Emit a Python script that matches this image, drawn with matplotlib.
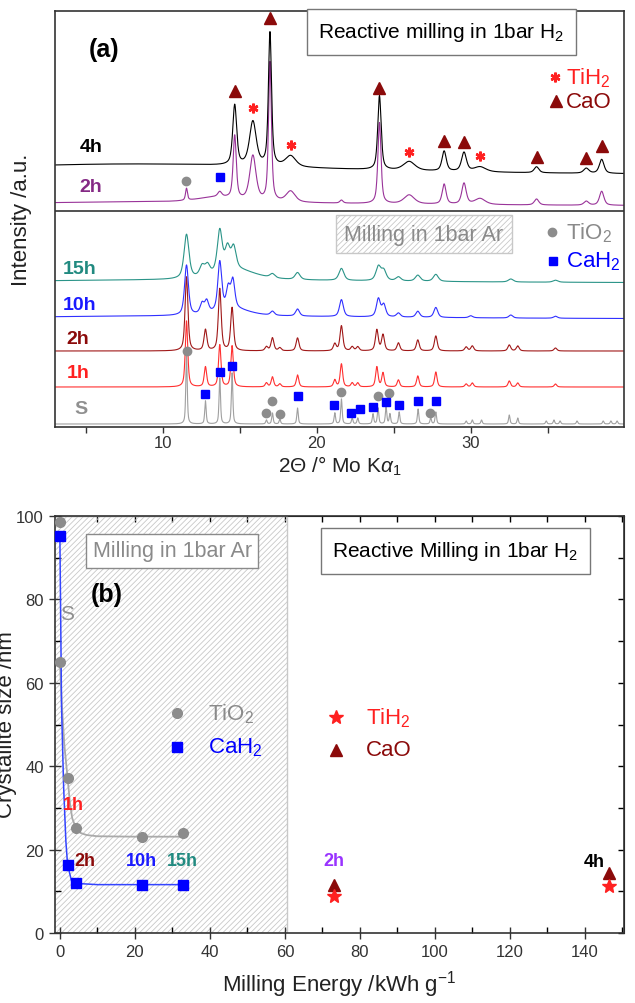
import numpy as np
import matplotlib
matplotlib.use("Agg")
import matplotlib.pyplot as plt
from matplotlib.ticker import MultipleLocator

plt.rcParams['font.family'] = ['Liberation Sans', 'DejaVu Sans']
plt.rcParams['mathtext.fontset'] = 'custom'
plt.rcParams['mathtext.rm'] = 'Liberation Sans'
plt.rcParams['mathtext.it'] = 'Liberation Sans:italic'
plt.rcParams['mathtext.bf'] = 'Liberation Sans:bold'
plt.rcParams['hatch.linewidth'] = 0.6

# ---------------- (a) XRD patterns: peak 2theta, peak height (a.u.), FWHM
# milling in Ar
s_pos = [11.54, 12.77, 13.70, 14.50, 16.73, 17.12, 17.60, 18.75, 21.17, 21.60, 22.30,
         22.66, 23.65, 23.98, 24.50, 24.75, 25.35, 26.58, 27.40, 27.73, 29.70, 30.10,
         30.70, 32.50, 33.05, 34.90, 35.40, 35.80, 36.90, 38.60, 39.10, 39.50]
s_hgt = [69, 23, 46, 51, 4, 11, 5, 16, 11, 25, 6,
         6, 10, 16, 17, 10, 12, 15, 6, 12, 3, 4,
         4, 9, 6, 3, 4, 3, 3, 3, 3, 3]

ar_pos = [11.54, 12.77, 13.70, 14.50, 16.73, 17.12, 17.60, 18.75, 21.17, 21.60, 22.30,
          22.66, 23.90, 24.30, 25.30, 26.56, 27.73, 29.70, 30.10, 32.50, 33.05, 35.50]
h1_hgt = [66, 20, 42, 41, 4, 10, 3, 12, 7, 23, 4, 4, 20, 14, 7, 11, 15, 3, 4, 6, 4, 3]
h2_hgt = [74, 21, 62, 43, 4, 13, 3, 13, 7, 25, 4, 4, 21, 16, 8, 11, 15, 4, 5, 6, 5, 3]

h10_pos = [11.54, 12.55, 12.85, 13.70, 14.25, 14.55, 17.12, 18.75, 21.60, 24.00, 24.35,
           25.30, 26.56, 27.73, 30.00, 32.60, 35.50]
h10_hgt = [50, 10, 12, 49, 20, 28, 4, 7, 17, 18, 12, 4, 6, 10, 2, 3, 2]
h15_pos = [11.54, 12.55, 12.90, 13.70, 14.20, 14.60, 17.12, 18.75, 21.60, 24.00, 24.35,
           25.30, 26.56, 27.73, 32.60, 35.50]
h15_hgt = [44, 10, 10, 42, 22, 22, 4, 7, 12, 14, 10, 4, 6, 7, 3, 2]

# broad background humps (center, height, FWHM)
h10_bg = [(14.6, 7, 2.5), (12, 3, 30)]
h15_bg = [(14.8, 10, 3.0), (12, 3, 30)]

# reactive milling in H2
h2r_pos = [11.54, 13.70, 14.67, 15.85, 16.96, 18.30, 21.60, 24.07, 26.00, 28.27, 29.56,
           30.60, 34.27, 37.50, 38.50]
h2r_hgt = [12, 5, 63, 45, 139, 11, 3, 81, 9, 20, 21, 6, 6, 4, 14]
h2r_wid = [0.15, 0.3, 0.24, 0.48, 0.22, 0.7, 0.24, 0.24, 0.8, 0.3, 0.34, 0.8, 0.34, 0.36, 0.34]
h2r_bg = [(10, 4, 30), (13.5, 5, 3)]

h4r_pos = [14.67, 15.85, 16.96, 18.30, 24.07, 26.00, 28.27, 29.56, 30.60, 34.27, 37.50, 38.50]
h4r_hgt = [60, 44, 133, 11, 74, 9, 20, 19, 5, 6, 5, 14]
h4r_wid = [0.3, 0.52, 0.24, 0.8, 0.26, 0.9, 0.33, 0.38, 0.9, 0.36, 0.4, 0.36]
h4r_bg = [(8, 11, 30)]

# phase markers in (a): 2theta, vertical position (a.u.)
cao_mx = [14.67, 16.96, 24.07, 28.27, 29.56, 34.27, 37.50, 38.50]
cao_my = [336, 409, 339, 286, 285, 270, 269, 281]
tih2_mx = [15.85, 18.30, 26.00, 30.60]
tih2_my = [319, 282, 275, 271]
tio2_mx = [11.5, 11.54, 16.73, 17.12, 17.60, 21.60, 23.98, 24.70, 27.38]
tio2_my = [246, 76, 14, 26, 13, 35, 31, 34, 14]
cah2_mx = [13.7, 12.77, 13.70, 14.50, 18.75, 21.10, 22.20, 22.80, 23.65, 24.50, 25.35, 26.60, 27.73]
cah2_my = [250, 33, 55, 61, 31, 22, 14, 18, 20, 25, 22, 26, 26]

# ---------------- (b) crystallite size vs milling energy
tio2_x = [0, 0, 2.05, 4.27, 21.8, 32.8]
tio2_y = [98.5, 65, 37.2, 25.2, 23.0, 24.0]
cah2_x = [0, 2.05, 4.27, 21.8, 32.8]
cah2_y = [95.3, 16.4, 11.9, 11.6, 11.6]
tih2_x = [73.2, 146.5]
tih2_y = [8.9, 11.2]
cao_x = [73.2, 146.5]
cao_y = [11.6, 14.5]
tio2_fit_x = [0, 0.5, 1.2, 2.05, 2.7, 3.3, 4.27, 5.5, 7.1, 10, 20, 32.8]
tio2_fit_y = [65, 55, 45, 37.2, 31, 27.5, 25.2, 24.0, 23.5, 23.2, 23.1, 23.1]
cah2_fit_x = [0, 0.45, 1.0, 1.6, 2.05, 3.1, 4.27, 10, 32.8]
cah2_fit_y = [95.3, 54, 35, 22, 16.4, 12.5, 11.9, 11.6, 11.6]

GRAY = '#8c8c8c'
RED = '#ff2020'
DRED = '#8b0a0a'
BLUE = '#1a1aff'
TEAL = '#218a80'
PURP = '#993399'


def pattern(x, pos, hgt, wid, bg=()):
    wid = np.broadcast_to(wid, np.shape(pos))
    y = np.zeros_like(x)
    peaks = list(zip(pos, hgt, wid)) + [(c, h, w) for c, h, w in bg]
    for c, h, w in peaks:
        d = (x - c) / (w / 2)
        y += h * (0.6 / (1 + d ** 2) + 0.4 * np.exp(-np.log(2) * d ** 2))
    return y


fig = plt.figure(figsize=(6.35, 10.04), dpi=100)
ax1 = fig.add_axes([55 / 635, 1 - 428 / 1004, 569 / 635, 416 / 1004])
ax2 = fig.add_axes([55 / 635, 1 - 934 / 1004, 569 / 635, 417 / 1004])

# ---------------- panel (a)
tt = np.linspace(3, 40, 4000)
curves = [
    (pattern(tt, s_pos, s_hgt, 0.11), 3, '#a0a0a0', 'S', 4.7, 18, '#909090'),
    (pattern(tt, ar_pos, h1_hgt, 0.19), 40, '#ff3030', '1h', 4.5, 55, RED),
    (pattern(tt, ar_pos, h2_hgt, 0.22), 76, '#a01818', '2h', 4.5, 89, DRED),
    (pattern(tt, h10_pos, h10_hgt, 0.3, h10_bg), 108, '#3030ff', '10h', 4.6, 123, BLUE),
    (pattern(tt, h15_pos, h15_hgt, 0.38, h15_bg), 144, '#2a9488', '15h', 4.6, 158, TEAL),
    (pattern(tt, h2r_pos, h2r_hgt, h2r_wid, h2r_bg), 221, PURP, '2h', 5.35, 240, '#852a85'),
    (pattern(tt, h4r_pos, h4r_hgt, h4r_wid, h4r_bg), 252, 'black', '4h', 5.35, 281, 'black'),
]
for yy, off, col, lab, lx, ly, lcol in curves:
    ax1.plot(tt, yy + off, color=col, lw=0.8)
    ax1.text(lx, ly, lab, color=lcol, fontsize=14, fontweight='bold', ha='center', va='center')

ax1.axhline(216, color='#333333', lw=1.2)
ax1.plot(cao_mx, cao_my, '^', color=DRED, ms=9, clip_on=False)
ax1.plot(tih2_mx, tih2_my, ls='none', marker=(6, 2, 0), color=RED, mec=RED, ms=7, mew=1.8)
ax1.plot(tio2_mx, tio2_my, 'o', color=GRAY, ms=6)
ax1.plot(cah2_mx, cah2_my, 's', color='#0000ff', ms=6)

ax1.text(6.2, 378, '(a)', fontsize=18, fontweight='bold', ha='center', va='center')
ax1.text(28.1, 395, 'Reactive milling in 1bar H$_2$', fontsize=15, ha='center', va='center',
         bbox=dict(boxstyle='square,pad=0.55', fc='white', ec='#777777', lw=1))
ax1.text(26.95, 193, 'Milling in 1bar Ar', fontsize=15.5, color='#8a8a8a', ha='center', va='center',
         bbox=dict(boxstyle='square,pad=0.4', fc='white', ec='#c8c8c8', lw=1, hatch='//////'))
# legends
ax1.plot([35.45], [350], ls='none', marker=(6, 2, 0), color=RED, mec=RED, ms=7, mew=1.8)
ax1.text(36.2, 350, 'TiH$_2$', color=RED, fontsize=16, va='center')
ax1.plot([35.55], [326], '^', color=DRED, ms=9)
ax1.text(36.2, 326, 'CaO', color=DRED, fontsize=16, va='center')
ax1.plot([35.3], [195], 'o', color=GRAY, ms=6)
ax1.text(36.2, 195, 'TiO$_2$', color='#8a8a8a', fontsize=16, va='center')
ax1.plot([35.35], [166], 's', color='#0000ff', ms=6)
ax1.text(36.2, 166, 'CaH$_2$', color='#0000ff', fontsize=16, va='center')

ax1.set_xlim(3.0, 39.95)
ax1.set_ylim(0, 416)
ax1.set_yticks([])
ax1.xaxis.set_major_locator(MultipleLocator(10))
ax1.xaxis.set_minor_locator(MultipleLocator(5))
ax1.tick_params(axis='x', which='both', direction='out', length=4, width=1, pad=2,
                labelsize=12, colors='#333333')
for sp in ax1.spines.values():
    sp.set_color('#333333')
    sp.set_linewidth(1.2)

# ---------------- panel (b)
ax2.axvspan(-5, 60.5, fc='none', ec='#c8c8c8', hatch='//////', lw=1)
ax2.plot(tio2_fit_x, tio2_fit_y, color='#aaaaaa', lw=1.3)
ax2.plot(cah2_fit_x, cah2_fit_y, color='#3344ff', lw=1.1)
ax2.plot(tio2_x, tio2_y, 'o', color=GRAY, ms=7, clip_on=False, zorder=5)
ax2.plot(cah2_x, cah2_y, 's', color='#0000ff', ms=7, clip_on=False, zorder=5)
ax2.plot(cao_x, cao_y, '^', color=DRED, ms=8, clip_on=False, zorder=5)
ax2.plot(tih2_x, tih2_y, '*', color=RED, ms=10, clip_on=False, zorder=5)

ax2.text(1.9, 76.7, 'S', color='#909090', fontsize=15, ha='center', va='center')
ax2.text(12.4, 81.3, '(b)', fontsize=18, fontweight='bold', ha='center', va='center')
for lab, x, y, c in [('1h', 3.5, 30.9, RED), ('2h', 6.7, 17.4, DRED), ('10h', 21.8, 17.4, BLUE),
                     ('15h', 32.6, 17.4, TEAL), ('2h', 73.0, 17.4, '#9933ff'), ('4h', 142.6, 17.2, 'black')]:
    ax2.text(x, y, lab, color=c, fontsize=13, fontweight='bold', ha='center', va='center')

ax2.text(30.0, 91.7, 'Milling in 1bar Ar', fontsize=15.5, color='#8a8a8a', ha='center', va='center',
         bbox=dict(boxstyle='square,pad=0.3', fc='white', ec='#8a8a8a', lw=1))
ax2.text(105.5, 91.7, 'Reactive Milling in 1bar H$_2$', fontsize=15, ha='center', va='center',
         bbox=dict(boxstyle='square,pad=0.55', fc='white', ec='#777777', lw=1))

ax2.plot([31.3], [52.8], 'o', color=GRAY, ms=7)
ax2.text(39.6, 52.8, 'TiO$_2$', color='#8a8a8a', fontsize=16, va='center')
ax2.plot([31.3], [44.6], 's', color='#0000ff', ms=7)
ax2.text(39.6, 44.6, 'CaH$_2$', color='#0000ff', fontsize=16, va='center')
ax2.plot([73.5], [51.8], '*', color=RED, ms=10)
ax2.text(81.5, 51.8, 'TiH$_2$', color=RED, fontsize=16, va='center')
ax2.plot([73.5], [43.9], '^', color=DRED, ms=8)
ax2.text(81.5, 43.9, 'CaO', color=DRED, fontsize=16, va='center')

ax2.set_xlim(-1.3, 150.4)
ax2.set_ylim(0, 100)
ax2.xaxis.set_major_locator(MultipleLocator(20))
ax2.xaxis.set_minor_locator(MultipleLocator(10))
ax2.yaxis.set_major_locator(MultipleLocator(20))
ax2.yaxis.set_minor_locator(MultipleLocator(10))
ax2.tick_params(which='major', direction='inout', length=9, width=1, labelsize=12, colors='#333333')
ax2.tick_params(which='minor', direction='in', length=4, width=1)
for sp in ax2.spines.values():
    sp.set_color('#333333')
    sp.set_linewidth(1.2)
top = ax2.secondary_xaxis('top')
top.xaxis.set_major_locator(MultipleLocator(10))
top.tick_params(which='both', direction='in', length=4.5, width=1, labeltop=False)
right = ax2.secondary_yaxis('right')
right.yaxis.set_major_locator(MultipleLocator(10))
right.tick_params(which='both', direction='in', length=4.5, width=1, labelright=False)

# axis titles
fig.text(339.5 / 635, 1 - 466 / 1004, '2Θ /° Mo K$α_1$', fontsize=15, ha='center', va='center', color='#222222')
fig.text(22 / 635, 1 - 220 / 1004, 'Intensity /a.u.', fontsize=16, rotation=90, ha='center', va='center',
         color='#222222')
fig.text(339.5 / 635, 1 - 985 / 1004, 'Milling Energy /kWh g$^{-1}$', fontsize=16, ha='center', va='center',
         color='#222222')
fig.text(7 / 635, 1 - 725 / 1004, 'Crystallite size /nm', fontsize=16, rotation=90, ha='center', va='center',
         color='#222222')

fig.savefig('out.png', dpi=100)
